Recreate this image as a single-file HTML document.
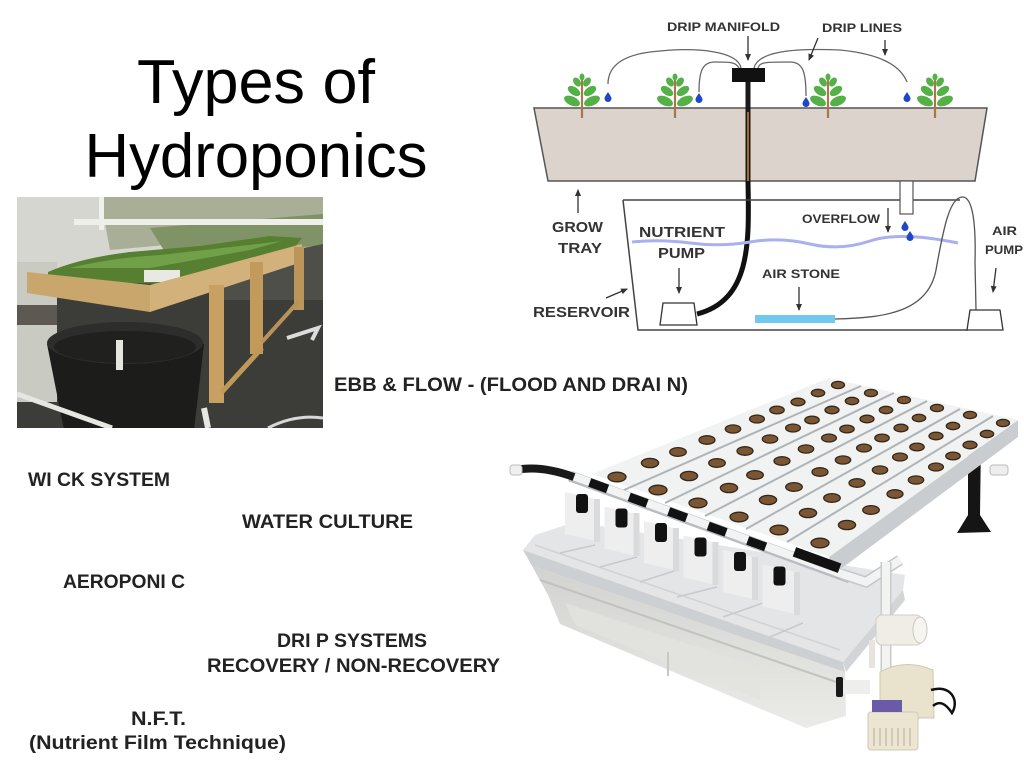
<!DOCTYPE html>
<html><head><meta charset="utf-8"><style>
html,body{margin:0;padding:0;background:#fff;}
svg{display:block}
text{font-family:"Liberation Sans",Arial,sans-serif;}
</style></head><body>
<svg width="1024" height="768" viewBox="0 0 1024 768" xmlns="http://www.w3.org/2000/svg">
<defs>
<clipPath id="pc"><rect x="17" y="197" width="306" height="231"/></clipPath>
<marker id="ah" markerWidth="7" markerHeight="7" refX="6" refY="3.5" orient="auto" markerUnits="userSpaceOnUse"><path d="M0,0.5 L7,3.5 L0,6.5 Z" fill="#333"/></marker>
<g id="pl">
<line x1="0" y1="0" x2="0" y2="-38" stroke="#a8764a" stroke-width="2.2"/>
<g fill="#55b047">
<ellipse cx="-10" cy="-17" rx="8.5" ry="4.5" transform="rotate(25 -10 -17)"/>
<ellipse cx="10" cy="-17" rx="8.5" ry="4.5" transform="rotate(-25 10 -17)"/>
<ellipse cx="-8" cy="-27" rx="7" ry="4" transform="rotate(35 -8 -27)"/>
<ellipse cx="8" cy="-27" rx="7" ry="4" transform="rotate(-35 8 -27)"/>
<ellipse cx="-5" cy="-36" rx="5" ry="3.3" transform="rotate(55 -5 -36)"/>
<ellipse cx="5" cy="-36" rx="5" ry="3.3" transform="rotate(-55 5 -36)"/>
<ellipse cx="0" cy="-41" rx="2.5" ry="3.5"/>
</g>
</g>
<path id="dr" d="M0,-5 C2,-2 3.5,0 3.5,1.5 A3.5,3.5 0 0 1 -3.5,1.5 C-3.5,0 -2,-2 0,-5Z" fill="#1f45c8"/>
<linearGradient id="tubg" x1="0" y1="0" x2="0" y2="1">
<stop offset="0" stop-color="#d2d3d0"/><stop offset="1" stop-color="#ebebe8"/>
</linearGradient>
</defs>
<rect width="1024" height="768" fill="#fff"/>

<!-- Title -->
<text x="256" y="103" font-size="62" text-anchor="middle" fill="#000" textLength="238" lengthAdjust="spacingAndGlyphs">Types of</text>
<text x="256" y="177" font-size="62" text-anchor="middle" fill="#000" textLength="343" lengthAdjust="spacingAndGlyphs">Hydroponics</text>

<!-- Left photo -->
<g clip-path="url(#pc)">
<rect x="17" y="197" width="306" height="231" fill="#3c3d39"/>
<rect x="17" y="197" width="306" height="72" fill="#d5d6cf"/>
<path d="M100,197 L323,197 L323,250 L290,246 L200,242 L110,250 Z" fill="#a9ae96"/>
<path d="M150,228 L323,214 L323,246 L165,252 Z" fill="#809366"/>
<rect x="99" y="197" width="5" height="33" fill="#f0f0ea"/>
<rect x="74" y="219" width="249" height="6" fill="#efefea"/>
<!-- left wall below table -->
<rect x="17" y="262" width="40" height="140" fill="#c9cac2"/>
<rect x="17" y="305" width="40" height="20" fill="#5d5852"/>
<!-- dark tubs behind right -->
<path d="M210,268 L323,244 L323,300 L224,300 Z" fill="#4e4f49"/>
<!-- plant bed -->
<path d="M48,272 Q80,258 130,252 L200,246 L270,236 L302,238 L292,250 L160,284 L48,280 Z" fill="#567f32"/>
<path d="M70,268 Q110,258 160,255 L240,246 L282,241 L250,250 L150,268 Z" fill="#72a048"/>
<rect x="144" y="270" width="36" height="12" fill="#e9e9e3"/>
<!-- board -->
<path d="M27,272 L150,285 L150,312 L27,293 Z" fill="#c9a76c"/>
<path d="M150,285 L302,244 L302,262 L150,312 Z" fill="#d2b27a"/>
<!-- black tub -->
<path d="M47,344 Q125,316 204,344 L194,430 L64,430 Z" fill="#1c1d1b"/>
<ellipse cx="125" cy="343" rx="78" ry="21" fill="#2d2e2b"/>
<ellipse cx="125" cy="347" rx="71" ry="16" fill="#20211f"/>
<rect x="116" y="340" width="7" height="30" fill="#e6e6e0"/>
<!-- legs -->
<rect x="209" y="285" width="15" height="118" fill="#c8a062"/>
<rect x="250" y="262" width="13" height="92" fill="#c19a5c"/>
<rect x="294" y="247" width="10" height="63" fill="#bb955a"/>
<line x1="222" y1="392" x2="262" y2="348" stroke="#c09858" stroke-width="5"/>
<line x1="262" y1="342" x2="298" y2="302" stroke="#b8925a" stroke-width="4"/>
<!-- white pipes -->
<line x1="17" y1="394" x2="112" y2="428" stroke="#e6e6e2" stroke-width="5"/>
<line x1="204" y1="408" x2="208" y2="428" stroke="#e6e6e2" stroke-width="6"/>
<path d="M268,428 Q295,414 323,418" stroke="#d8d8d6" stroke-width="3" fill="none"/>
<path d="M287,338 L318,328 L312,340" stroke="#dcdcdc" stroke-width="4" fill="none"/>
</g>

<!-- Right diagram -->
<g>
<polygon points="534,108 987,108 975,181 548,181" fill="#dbd3cc" stroke="#555" stroke-width="1.5"/>
<use href="#pl" x="582" y="118"/>
<use href="#pl" x="675" y="118"/>
<use href="#pl" x="828" y="118"/>
<use href="#pl" x="935" y="118"/>
<use href="#dr" x="608" y="97"/>
<use href="#dr" x="699" y="98"/>
<use href="#dr" x="806" y="102"/>
<use href="#dr" x="907" y="97"/>
<g fill="none" stroke="#666" stroke-width="1.3">
<path d="M741,68 C738,52 700,46 650,52 C620,56 608,68 608,84"/>
<path d="M739,68 C736,62 730,62 715,62 C703,62 699,70 699,92"/>
<path d="M758,68 C760,62 765,62 790,62 C803,62 806,72 806,96"/>
<path d="M754,68 C758,52 790,48 840,50 C880,54 900,65 907,82"/>
</g>
<rect x="732" y="68" width="33" height="14" fill="#111"/>
<line x1="748" y1="82" x2="748" y2="181" stroke="#1a1a1a" stroke-width="5"/>
<line x1="748" y1="112" x2="748" y2="181" stroke="#a06a30" stroke-width="2"/>
<path d="M748,181 C749,240 752,300 697,314" fill="none" stroke="#111" stroke-width="5"/>
<path d="M623,200 L960,200 M623,200 L638,330 L968,330" fill="none" stroke="#444" stroke-width="1.5"/>
<path d="M632,242 Q660,239 690,243 T750,242 T810,244 T870,241 T958,243" fill="none" stroke="#a9b0ee" stroke-width="3"/>
<rect x="900" y="181" width="13" height="33" fill="#fff" stroke="#555" stroke-width="1.2"/>
<use href="#dr" x="905" y="226"/>
<use href="#dr" x="910" y="236"/>
<polygon points="660,325 697,325 694,303 663,303" fill="#fff" stroke="#333" stroke-width="1.3"/>
<rect x="755" y="315" width="80" height="8" fill="#72c8ee"/>
<path d="M835,319 C885,318 928,312 936,270 C944,225 950,198 962,197 C973,196 976,225 975,262 L976,310" fill="none" stroke="#555" stroke-width="1.3"/>
<polygon points="967,330 1003,330 1000,310 970,310" fill="#fff" stroke="#333" stroke-width="1.3"/>
<g stroke="#333" stroke-width="1.3" marker-end="url(#ah)">
<line x1="748" y1="36" x2="748" y2="60"/>
<line x1="818" y1="38" x2="809" y2="60"/>
<line x1="885" y1="40" x2="885" y2="55"/>
<line x1="578" y1="213" x2="578" y2="190"/>
<line x1="679" y1="268" x2="679" y2="293"/>
<line x1="799" y1="287" x2="799" y2="310"/>
<line x1="888" y1="208" x2="888" y2="232"/>
<line x1="996" y1="268" x2="993" y2="292"/>
<line x1="606" y1="298" x2="627" y2="289"/>
</g>
<g font-weight="bold" fill="#333">
<text x="667" y="31" font-size="12" textLength="113" lengthAdjust="spacingAndGlyphs">DRIP MANIFOLD</text>
<text x="822" y="32" font-size="12" textLength="80" lengthAdjust="spacingAndGlyphs">DRIP LINES</text>
<text x="552" y="232" font-size="15" textLength="51" lengthAdjust="spacingAndGlyphs">GROW</text>
<text x="558" y="253" font-size="15" textLength="44" lengthAdjust="spacingAndGlyphs">TRAY</text>
<text x="639" y="237" font-size="15" textLength="86" lengthAdjust="spacingAndGlyphs">NUTRIENT</text>
<text x="658" y="258" font-size="15" textLength="47" lengthAdjust="spacingAndGlyphs">PUMP</text>
<text x="802" y="223" font-size="12" textLength="78" lengthAdjust="spacingAndGlyphs">OVERFLOW</text>
<text x="762" y="278" font-size="12" textLength="78" lengthAdjust="spacingAndGlyphs">AIR STONE</text>
<text x="992" y="235" font-size="12" textLength="25" lengthAdjust="spacingAndGlyphs">AIR</text>
<text x="985" y="254" font-size="12" textLength="38" lengthAdjust="spacingAndGlyphs">PUMP</text>
<text x="533" y="317" font-size="15" textLength="97" lengthAdjust="spacingAndGlyphs">RESERVOIR</text>
</g>
</g>

<!-- Product photo -->
<g>
<polygon points="532,566 845,672 846,716 806,728 560,624 548,595" fill="url(#tubg)"/>
<line x1="540" y1="580" x2="845" y2="685" stroke="#c2c2be" stroke-width="2"/>
<polygon points="565,603 760,668 760,700 575,625" fill="#e2e2de" opacity="0.8"/>
<line x1="668" y1="652" x2="668" y2="676" stroke="#c8c8c4" stroke-width="2"/>
<polygon points="523,550 535,535 575,522 905,575 903,590 843,662" fill="#e3e5e7"/>
<polygon points="523,550 843,662 845,672 532,566" fill="#cdd0d2"/>
<polygon points="843,662 903,590 905,600 846,672" fill="#d2d5d7"/>
<line x1="535" y1="545" x2="840" y2="650" stroke="#cfd2d6" stroke-width="1.5"/>
<g stroke="#c6c9ce" stroke-width="1.5">
<line x1="560" y1="553" x2="595" y2="545"/>
<line x1="600" y1="567" x2="637" y2="557"/>
<line x1="640" y1="582" x2="677" y2="570"/>
<line x1="677" y1="597" x2="717" y2="587"/>
<line x1="723" y1="617" x2="763" y2="603"/>
<line x1="770" y1="637" x2="803" y2="623"/>
</g>
<polygon points="968,440 981,440 980,515 991,532 957,533 968,515" fill="#151515"/>
<rect x="990" y="465" width="18" height="10" rx="3" fill="#eee" stroke="#bbb"/>
<g>
<polygon points="565,492 600,500 600,542 565,534" fill="#eeeeee"/>
<polygon points="604.5,506.5 639.5,514.5 639.5,556.5 604.5,548.5" fill="#eeeeee"/>
<polygon points="644,521 679,529 679,571 644,563" fill="#eeeeee"/>
<polygon points="683.5,535.5 718.5,543.5 718.5,585.5 683.5,577.5" fill="#eeeeee"/>
<polygon points="723,550 758,558 758,600 723,592" fill="#eeeeee"/>
<polygon points="762.5,564.5 800,573 800,615 762.5,606.5" fill="#eeeeee"/>
</g>
<g fill="#d9dadb">
<rect x="594" y="499" width="6" height="43"/>
<rect x="633.5" y="513" width="6" height="43"/>
<rect x="673" y="528" width="6" height="43"/>
<rect x="712.5" y="542" width="6" height="43"/>
<rect x="752" y="557" width="6" height="43"/>
<rect x="794" y="572" width="6" height="43"/>
</g>
<polygon points="829,557 1018,420 1018,437 834,574" fill="#c9cdd0"/>
<polygon points="592,474 829,378 1018,420 829,557" fill="#f1f3f3"/>
<g stroke="#aeb4b8" stroke-width="2">
<line x1="624" y1="490" x2="861" y2="386"/>
<line x1="665" y1="503" x2="894" y2="393"/>
<line x1="705" y1="516" x2="927" y2="401"/>
<line x1="746" y1="529" x2="960" y2="409"/>
<line x1="787" y1="542" x2="993" y2="416"/>
</g>
<g fill="#7b5634" stroke="#33261a" stroke-width="1.3">
<ellipse cx="617" cy="477" rx="9" ry="4.8"/><ellipse cx="650" cy="463" rx="8.6" ry="4.6"/><ellipse cx="678" cy="452" rx="8.3" ry="4.4"/><ellipse cx="707" cy="440" rx="8" ry="4.3"/><ellipse cx="733" cy="429" rx="7.7" ry="4.1"/><ellipse cx="757" cy="419" rx="7.4" ry="4"/><ellipse cx="777" cy="410" rx="7.2" ry="3.9"/><ellipse cx="798" cy="402" rx="7" ry="3.8"/><ellipse cx="818" cy="393" rx="6.7" ry="3.7"/><ellipse cx="838" cy="385" rx="6.5" ry="3.6"/>
<ellipse cx="658" cy="490" rx="9" ry="4.8"/><ellipse cx="689" cy="476" rx="8.6" ry="4.6"/><ellipse cx="717" cy="463" rx="8.3" ry="4.4"/><ellipse cx="745" cy="451" rx="8" ry="4.3"/><ellipse cx="770" cy="439" rx="7.7" ry="4.1"/><ellipse cx="793" cy="428" rx="7.4" ry="4"/><ellipse cx="812" cy="420" rx="7.2" ry="3.9"/><ellipse cx="832" cy="410" rx="7" ry="3.8"/><ellipse cx="852" cy="401" rx="6.7" ry="3.7"/><ellipse cx="871" cy="393" rx="6.5" ry="3.6"/>
<ellipse cx="698" cy="503" rx="9" ry="4.8"/><ellipse cx="729" cy="488" rx="8.6" ry="4.6"/><ellipse cx="755" cy="475" rx="8.3" ry="4.4"/><ellipse cx="782" cy="461" rx="8" ry="4.3"/><ellipse cx="806" cy="449" rx="7.7" ry="4.1"/><ellipse cx="829" cy="438" rx="7.4" ry="4"/><ellipse cx="847" cy="429" rx="7.2" ry="3.9"/><ellipse cx="867" cy="419" rx="7" ry="3.8"/><ellipse cx="886" cy="410" rx="6.7" ry="3.7"/><ellipse cx="904" cy="400" rx="6.5" ry="3.6"/>
<ellipse cx="739" cy="517" rx="9" ry="4.8"/><ellipse cx="768" cy="500" rx="8.6" ry="4.6"/><ellipse cx="794" cy="487" rx="8.3" ry="4.4"/><ellipse cx="820" cy="472" rx="8" ry="4.3"/><ellipse cx="843" cy="460" rx="7.7" ry="4.1"/><ellipse cx="864" cy="448" rx="7.4" ry="4"/><ellipse cx="882" cy="438" rx="7.2" ry="3.9"/><ellipse cx="901" cy="428" rx="7" ry="3.8"/><ellipse cx="919" cy="418" rx="6.7" ry="3.7"/><ellipse cx="937" cy="408" rx="6.5" ry="3.6"/>
<ellipse cx="779" cy="530" rx="9" ry="4.8"/><ellipse cx="808" cy="513" rx="8.6" ry="4.6"/><ellipse cx="832" cy="498" rx="8.3" ry="4.4"/><ellipse cx="857" cy="483" rx="8" ry="4.3"/><ellipse cx="880" cy="470" rx="7.7" ry="4.1"/><ellipse cx="900" cy="457" rx="7.4" ry="4"/><ellipse cx="917" cy="447" rx="7.2" ry="3.9"/><ellipse cx="936" cy="436" rx="7" ry="3.8"/><ellipse cx="953" cy="426" rx="6.7" ry="3.7"/><ellipse cx="970" cy="415" rx="6.5" ry="3.6"/>
<ellipse cx="820" cy="543" rx="9" ry="4.8"/><ellipse cx="847" cy="525" rx="8.6" ry="4.6"/><ellipse cx="871" cy="510" rx="8.3" ry="4.4"/><ellipse cx="895" cy="494" rx="8" ry="4.3"/><ellipse cx="916" cy="480" rx="7.7" ry="4.1"/><ellipse cx="936" cy="467" rx="7.4" ry="4"/><ellipse cx="953" cy="456" rx="7.2" ry="3.9"/><ellipse cx="970" cy="445" rx="7" ry="3.8"/><ellipse cx="987" cy="434" rx="6.7" ry="3.7"/><ellipse cx="1003" cy="423" rx="6.5" ry="3.6"/>
</g>
<line x1="570" y1="476" x2="850" y2="578" stroke="#b8bcc0" stroke-width="11"/>
<line x1="570" y1="475" x2="850" y2="577" stroke="#f2f3f3" stroke-width="8"/>
<path d="M515,470 C535,466 555,470 574,477" fill="none" stroke="#1a1a1a" stroke-width="8"/>
<rect x="510" y="465" width="12" height="10" rx="3" fill="#f0f0f0" stroke="#bbb"/>
<g fill="#121212">
<rect x="589" y="481" width="19" height="9" transform="rotate(20 598 486)"/>
<rect x="576" y="494" width="12" height="19" rx="3"/>
<rect x="628.5" y="495.5" width="19" height="9" transform="rotate(20 637.5 500.5)"/>
<rect x="615.5" y="508.5" width="12" height="19" rx="3"/>
<rect x="668" y="510" width="19" height="9" transform="rotate(20 677 515)"/>
<rect x="655" y="523" width="12" height="19" rx="3"/>
<rect x="707.5" y="524.5" width="19" height="9" transform="rotate(20 716.5 529.5)"/>
<rect x="694.5" y="537.5" width="12" height="19" rx="3"/>
<rect x="747" y="539" width="19" height="9" transform="rotate(20 756 544)"/>
<rect x="734" y="552" width="12" height="19" rx="3"/>
<rect x="793" y="555" width="48" height="10" transform="rotate(20 817 560)"/>
<rect x="773.5" y="566.5" width="12" height="19" rx="3"/>
</g>
<path d="M842,574 L866,582 L900,560" fill="none" stroke="#c4c7ca" stroke-width="11"/>
<path d="M842,574 L866,582 L900,560" fill="none" stroke="#f2f3f3" stroke-width="8"/>
<line x1="886" y1="562" x2="886" y2="672" stroke="#c8cacc" stroke-width="11"/>
<line x1="886" y1="562" x2="886" y2="672" stroke="#f3f3f1" stroke-width="8"/>
<rect x="876" y="615" width="46" height="30" rx="6" fill="#efede5" stroke="#cfcdc5"/>
<ellipse cx="920" cy="630" rx="7" ry="13" fill="#f6f5f0" stroke="#c9c7c0"/>
<line x1="872" y1="640" x2="872" y2="668" stroke="#e6e4dc" stroke-width="6"/>
<rect x="840" y="680" width="30" height="14" fill="#eeeeec"/>
<rect x="836" y="677" width="7" height="20" rx="2" fill="#1a1a1a"/>
<path d="M880,672 Q905,658 933,670 L934,718 L880,718 Z" fill="#e9e2cc" stroke="#cfc8b2"/>
<rect x="868" y="712" width="50" height="38" rx="3" fill="#ebe5d1" stroke="#cfc8b2"/>
<g stroke="#b8b09a" stroke-width="1"><line x1="874" y1="728" x2="874" y2="746"/><line x1="880" y1="728" x2="880" y2="746"/><line x1="886" y1="728" x2="886" y2="746"/><line x1="892" y1="728" x2="892" y2="746"/><line x1="898" y1="728" x2="898" y2="746"/><line x1="904" y1="728" x2="904" y2="746"/><line x1="910" y1="728" x2="910" y2="746"/></g>
<rect x="872" y="700" width="30" height="12" fill="#6b5aa8"/>
<path d="M931,690 C950,684 960,700 952,713 C946,704 940,700 933,706" fill="none" stroke="#111" stroke-width="2.5"/>
</g>

<!-- Labels -->
<g font-weight="bold" fill="#222" font-size="19">
<text x="334" y="391" textLength="354" lengthAdjust="spacingAndGlyphs">EBB &amp; FLOW - (FLOOD AND DRAI N)</text>
<text x="28" y="486" textLength="142" lengthAdjust="spacingAndGlyphs">WI CK SYSTEM</text>
<text x="242" y="528" textLength="171" lengthAdjust="spacingAndGlyphs">WATER CULTURE</text>
<text x="63" y="588" textLength="122" lengthAdjust="spacingAndGlyphs">AEROPONI C</text>
<text x="277" y="647" textLength="150" lengthAdjust="spacingAndGlyphs">DRI P SYSTEMS</text>
<text x="207" y="672" textLength="293" lengthAdjust="spacingAndGlyphs">RECOVERY /  NON-RECOVERY</text>
<text x="131" y="725" textLength="55" lengthAdjust="spacingAndGlyphs">N.F.T.</text>
<text x="29" y="749" textLength="257" lengthAdjust="spacingAndGlyphs">(Nutrient Film Technique)</text>
</g>
</svg>
</body></html>
